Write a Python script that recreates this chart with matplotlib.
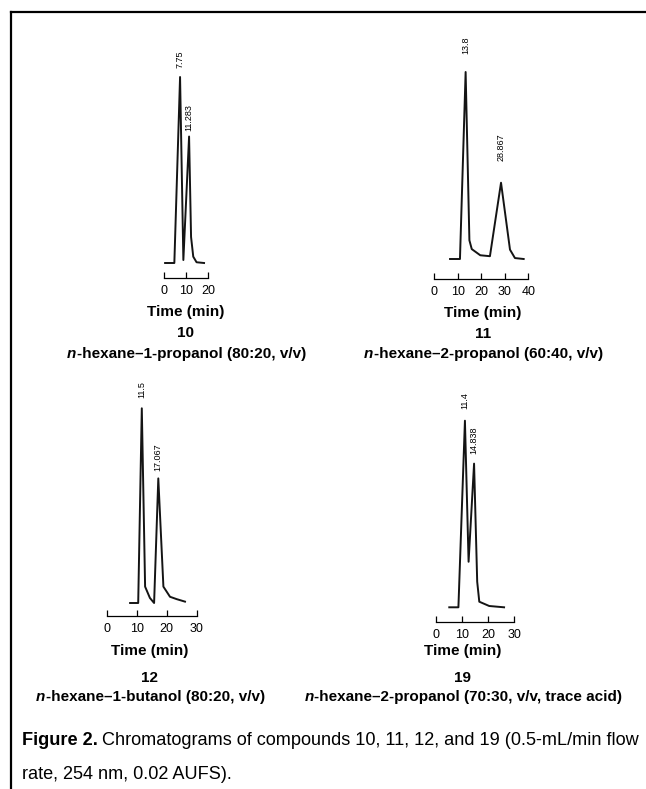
import matplotlib
matplotlib.use("Agg")
import matplotlib.pyplot as plt
from matplotlib import font_manager
from matplotlib.lines import Line2D

W, H = 646, 789

# retention time (min) and detector response (% of tallest peak)
t10 = [0.5, 4.7, 7.3, 8.8, 11.4, 12.3, 13.3, 14.8, 18.2]
s10 = [0, 0, 100, 1.6, 68, 14, 3.4, 0.4, 0]
t11 = [6.8, 11.0, 13.4, 15.0, 16.0, 19.6, 23.7, 28.4, 32.2, 34.3, 38.0]
s11 = [0, 0, 100, 10, 5.3, 2, 1.5, 40.8, 5, 0.5, 0]
t12 = [7.8, 10.5, 11.7, 12.8, 14.4, 15.8, 17.2, 18.9, 21.1, 23.3, 26.1]
s12 = [0, 0, 100, 8.4, 2.6, 0, 64, 8.4, 3.2, 2, 0.7]
t19 = [5.2, 8.7, 11.2, 12.6, 14.7, 15.9, 16.7, 20.5, 26.2]
s19 = [0, 0, 100, 24.4, 77, 13.7, 3, 0.7, 0]

peaks10 = ["7.75", "11.283"]
peaks11 = ["13.8", "28.867"]
peaks12 = ["11.5", "17.067"]
peaks19 = ["11.4", "14.838"]

xmax = [20, 40, 30, 30]
numbers = ["10", "11", "12", "19"]
mobile = ["-hexane\u20131-propanol (80:20, v/v)",
          "-hexane\u20132-propanol (60:40, v/v)",
          "-hexane\u20131-butanol (80:20, v/v)",
          "-hexane\u20132-propanol (70:30, v/v, trace acid)"]
caption1 = "Chromatograms of compounds 10, 11, 12, and 19 (0.5-mL/min flow"
caption2 = "rate, 254 nm, 0.02 AUFS)."

SANS = "Liberation Sans"
names = {f.name for f in font_manager.fontManager.ttflist}
CAP = "Liberation Sans Narrow" if "Liberation Sans Narrow" in names else SANS

fig = plt.figure(figsize=(W / 100, H / 100), dpi=100)
R = fig.canvas.get_renderer()


def fx(x):
    return x / W


def fy(y):
    return 1 - y / H


def panel(t, s, labels, xm, t0, ppm, base, ppu, axis, offs):
    top = base - 112 * ppu
    ax = fig.add_axes([fx(t0), fy(axis), xm * ppm / W, (axis - top) / H])
    ax.set_xlim(0, xm)
    ax.set_ylim(-(axis - base) / ppu, 112)
    ax.plot(t, s, color="#141414", lw=1.4, clip_on=False)
    for sp in ["left", "top", "right"]:
        ax.spines[sp].set_visible(False)
    ax.spines["bottom"].set_bounds(0, xm)
    ax.spines["bottom"].set_linewidth(0.9)
    ax.set_yticks([])
    ax.set_xticks(range(0, xm + 1, 10))
    ax.tick_params(axis="x", direction="in", length=4, width=0.9, labelsize=9, pad=5)
    for lab in ax.get_xticklabels():
        lab.set_family(SANS)
    # peak labels on local maxima
    k = 0
    for i in range(1, len(s) - 1):
        if s[i] > s[i - 1] and s[i] > s[i + 1]:
            ax.annotate(labels[k], (t[i], s[i]), xytext=(0, offs[k] * 0.72),
                        textcoords="offset points", rotation=90, ha="center",
                        va="bottom", fontsize=6.5, family=SANS)
            k += 1
    return ax


panel(t10, s10, peaks10, xmax[0], 164, 2.2, 263, 1.86, 278, [9, 6])
panel(t11, s11, peaks11, xmax[1], 434, 2.36, 259, 1.87, 279, [18, 22])
panel(t12, s12, peaks12, xmax[2], 106.7, 3.0, 603, 1.947, 616, [10, 7])
panel(t19, s19, peaks19, xmax[3], 435.7, 2.61, 607.3, 1.866, 621.7, [12, 10])

# panel texts: (centre x, time-label y, number y, caption y)
spots = [(186, 312, 333, 354), (483, 313, 334, 354),
         (150, 651, 678, 697), (463, 651, 678, 697)]

for (cx, ty, ny, my), num, mob in zip(spots, numbers, mobile):
    fig.text(fx(cx), fy(ty), "Time (min)", ha="center", va="center",
             fontsize=11, fontweight="bold", family=SANS)
    fig.text(fx(cx), fy(ny), num, ha="center", va="center",
             fontsize=11, fontweight="bold", family=SANS)
    a = fig.text(0, fy(my), "n", fontsize=11, fontweight="bold", fontstyle="italic",
                 family=SANS, va="center")
    b = fig.text(0, fy(my), mob, fontsize=11, fontweight="bold", family=SANS, va="center")
    wa = a.get_window_extent(R).width
    wb = b.get_window_extent(R).width
    x0 = cx - (wa + wb) / 2
    a.set_x(fx(x0))
    b.set_x(fx(x0 + wa + 0.5))

# caption, fitted to the width of the first line
size = 13
fb = fig.text(fx(22), fy(745), "Figure 2.", fontsize=size, fontweight="bold",
              family=CAP, va="baseline")
f1 = fig.text(0, fy(745), caption1, fontsize=size, family=CAP, va="baseline")
w_all = fb.get_window_extent(R).width + f1.get_window_extent(R).width + size * 0.3
size = size * 614 / w_all
fb.set_fontsize(size)
f1.set_fontsize(size)
wb = fb.get_window_extent(R).width
f1.set_x(fx(22 + wb + size * 0.3))
fig.text(fx(22), fy(779), caption2, fontsize=size, family=CAP, va="baseline")

# frame: top and left rules
fig.add_artist(Line2D([fx(11), 1], [fy(12), fy(12)], transform=fig.transFigure,
                      color="black", lw=1.6))
fig.add_artist(Line2D([fx(11), fx(11)], [fy(12), 0], transform=fig.transFigure,
                      color="black", lw=1.6))

fig.savefig("out.png", dpi=100)
